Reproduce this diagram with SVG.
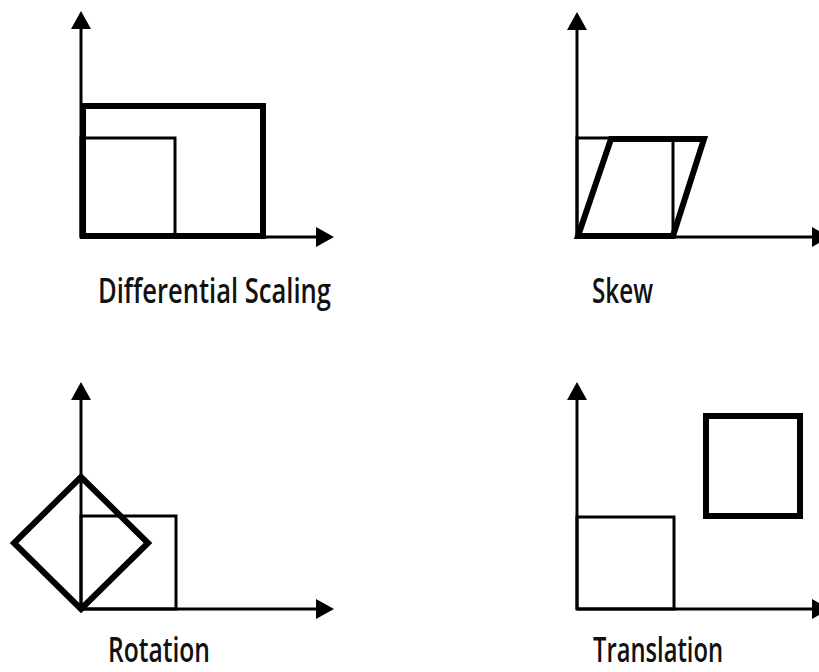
<svg xmlns="http://www.w3.org/2000/svg" width="819" height="672" viewBox="0 0 819 672">
  <style>
    .axis { fill: none; stroke: #000; stroke-width: 3; marker-end: url(#arrow); }
    .thin { fill: none; stroke: #000; stroke-width: 3; }
    .thick { fill: none; stroke: #000; stroke-width: 6; stroke-linejoin: miter; }
    .label { font-family: "Open Sans", "Liberation Sans", sans-serif; font-size: 35px; font-weight: 600; fill: #111; }
  </style>
  <defs>
    <marker id="arrow" markerUnits="userSpaceOnUse" markerWidth="19" markerHeight="20" refX="0" refY="10" orient="auto">
      <path d="M0,0 L18,10 L0,20 z" fill="#000"/>
    </marker>
  </defs>
  <rect width="819" height="672" fill="#fff"/>

  <g id="connectors">
    <line class="axis" x1="81" y1="237" x2="81" y2="29"/>
    <line class="axis" x1="81" y1="237" x2="316" y2="237"/>
    <line class="axis" x1="577" y1="237" x2="577" y2="30"/>
    <line class="axis" x1="577" y1="237" x2="812" y2="237"/>
    <line class="axis" x1="81" y1="609" x2="81" y2="400"/>
    <line class="axis" x1="81" y1="609" x2="316" y2="609"/>
    <line class="axis" x1="577" y1="609" x2="577" y2="400"/>
    <line class="axis" x1="577" y1="609" x2="812" y2="609"/>
  </g>

  <g id="scaling">
    <rect class="thin" x="81" y="138" width="94" height="99"/>
    <rect class="thick" x="83" y="106" width="180" height="130"/>
    <text class="label" x="98" y="303" textLength="233" lengthAdjust="spacingAndGlyphs">Differential Scaling</text>
  </g>

  <g id="skew">
    <rect class="thin" x="577" y="138" width="96" height="99"/>
    <polygon class="thick" points="578,236 673,236 704,139 611,139"/>
    <text class="label" x="592" y="303" textLength="61" lengthAdjust="spacingAndGlyphs">Skew</text>
  </g>

  <g id="rotation">
    <rect class="thin" x="81" y="516" width="95" height="93"/>
    <polygon class="thick" points="81,609 148,543 81,477 14,543"/>
    <text class="label" x="108" y="662" textLength="102" lengthAdjust="spacingAndGlyphs">Rotation</text>
  </g>

  <g id="translation">
    <rect class="thin" x="577" y="517" width="97" height="92"/>
    <rect class="thick" x="706" y="416" width="94" height="100"/>
    <text class="label" x="593" y="662" textLength="130" lengthAdjust="spacingAndGlyphs">Translation</text>
  </g>
</svg>
